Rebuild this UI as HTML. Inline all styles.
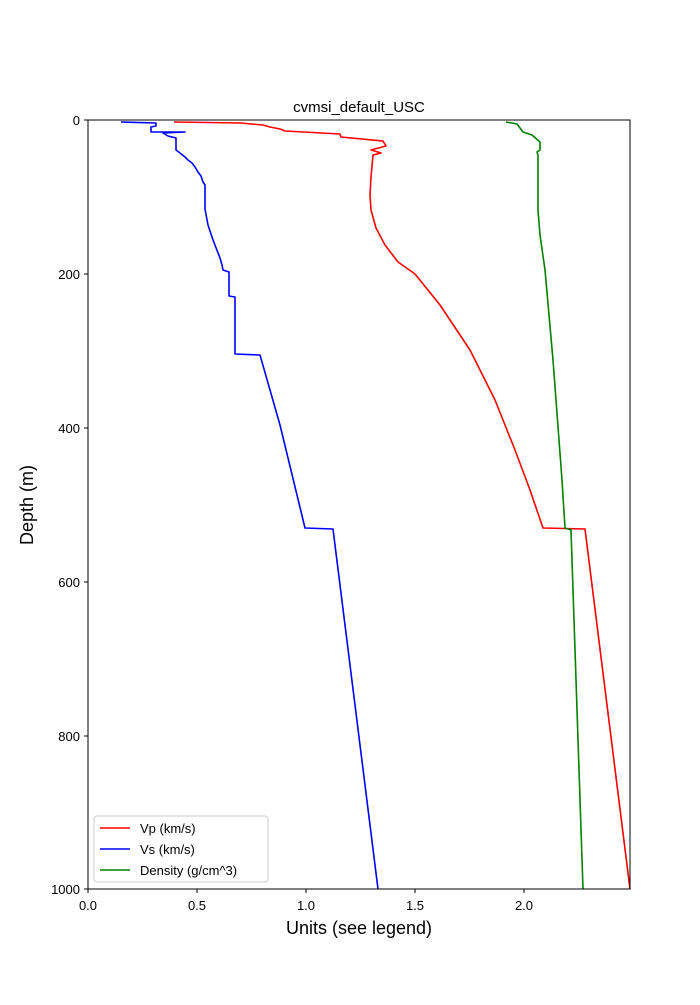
<!DOCTYPE html>
<html><head><meta charset="utf-8"><style>body{margin:0;background:#fff}</style></head><body>
<svg width="700" height="1000" xmlns="http://www.w3.org/2000/svg" font-family="Liberation Sans, DejaVu Sans, sans-serif">
<rect width="700" height="1000" fill="#fff"/>
<g fill="none" stroke-width="1.6" stroke-linejoin="round">
<polyline stroke="#ff0000" points="174,122 241,123 251,124 263,125 270,127 280,129 285,131 340,134 341,137 383,141 386,146 371,150 381,153 373,155 371,177 370,195 371,210 376,228 385,245 398,262 415,274 440,305 470,350 495,400 515,450 530,490 543,528 585,529 630,889"/>
<polyline stroke="#0000ff" points="121,122 156,123 156,126 151,127 151,132 185,132 163,133 168,136 176,138 176,150 180,153 185,157 188,160 192,163 195,167 198,172 201,176 203,182 205,185 205,209 208,225 213,240 220,258 222,265 223,270 229,272 229,296 235,297 235,354 260,355 280,425 305,528 333,529 378,889"/>
<polyline stroke="#008000" points="506,122 517,124 523,132 532,135 540,142 540,150 537,152 538,155 538,210 540,235 545,270 553,360 562,480 565,528 571,530 583,889"/>
</g>
<rect x="88" y="120" width="542" height="769" fill="none" stroke="#000" stroke-width="1"/>
<g stroke="#000" stroke-width="1">
<line x1="88" y1="889" x2="88" y2="893"/><line x1="197" y1="889" x2="197" y2="893"/><line x1="306" y1="889" x2="306" y2="893"/><line x1="415" y1="889" x2="415" y2="893"/><line x1="524" y1="889" x2="524" y2="893"/>
<line x1="84" y1="120" x2="88" y2="120"/><line x1="84" y1="274" x2="88" y2="274"/><line x1="84" y1="428" x2="88" y2="428"/><line x1="84" y1="582" x2="88" y2="582"/><line x1="84" y1="736" x2="88" y2="736"/><line x1="84" y1="889" x2="88" y2="889"/>
</g>
<g font-size="13" fill="#000" text-anchor="middle">
<text x="88" y="910">0.0</text><text x="197" y="910">0.5</text><text x="306" y="910">1.0</text><text x="415" y="910">1.5</text><text x="524" y="910">2.0</text>
</g>
<g font-size="13" fill="#000" text-anchor="end">
<text x="80" y="125">0</text><text x="80" y="279">200</text><text x="80" y="433">400</text><text x="80" y="587">600</text><text x="80" y="741">800</text><text x="80" y="894">1000</text>
</g>
<text x="359" y="112" font-size="15" text-anchor="middle">cvmsi_default_USC</text>
<text x="359" y="934" font-size="18" text-anchor="middle">Units (see legend)</text>
<text transform="translate(33,505) rotate(-90)" font-size="18" text-anchor="middle">Depth (m)</text>
<rect x="94" y="816" width="174" height="66" rx="3" fill="#fff" fill-opacity="0.8" stroke="#ccc"/>
<g stroke-width="1.6"><line x1="100" y1="828" x2="130" y2="828" stroke="#f00"/><line x1="100" y1="849" x2="130" y2="849" stroke="#00f"/><line x1="100" y1="870" x2="130" y2="870" stroke="#008000"/></g>
<g font-size="13" fill="#000"><text x="140" y="833">Vp (km/s)</text><text x="140" y="854">Vs (km/s)</text><text x="140" y="875">Density (g/cm^3)</text></g>
</svg>
</body></html>
